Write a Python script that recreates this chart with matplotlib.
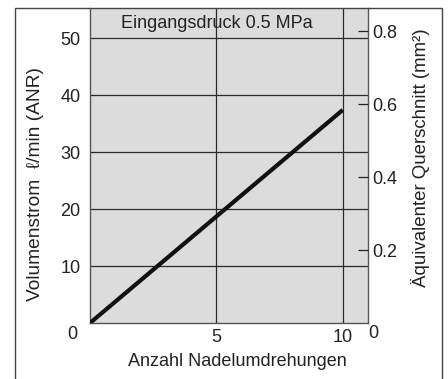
import numpy as np
import matplotlib
matplotlib.use("Agg")
import matplotlib.pyplot as plt
from matplotlib.patches import Rectangle

plt.rcParams['font.family'] = ['Liberation Sans', 'DejaVu Sans']
plt.rcParams['font.size'] = 13

# data
turns = [0, 10]
flow = [0, 37.4]
left_ticks = [10, 20, 30, 40, 50]
bottom_ticks = [5, 10]
right_ticks = [0.2, 0.4, 0.6, 0.8]
area_per_flow = 1 / 64.0   # mm2 per l/min on the right scale
note = "Eingangsdruck 0.5 MPa"

fig = plt.figure(figsize=(4.48, 3.79), dpi=100)
ax = fig.add_axes([90 / 448, 1 - 323 / 379, 278 / 448, 315 / 379])
ax.set_facecolor('#dcdcdc')

ax.set_xlim(0, 11)
ax.set_ylim(0, 55.3)
ax.set_xticks(bottom_ticks)
ax.set_yticks(left_ticks)
ax.grid(True, color='#2a2a2a', lw=0.9)
ax.set_axisbelow(True)
ax.tick_params(length=0, pad=4, colors='#222222')
ax.tick_params(axis='y', pad=7)
for s in ['left', 'bottom', 'right']:
    ax.spines[s].set_color('#555555')
    ax.spines[s].set_linewidth(1.0)
ax.spines['top'].set_visible(False)

ax.plot(turns, flow, color='#111111', lw=3.0, solid_capstyle='butt', zorder=3)

ax.text(5, 52.6, note, ha='center', va='center', color='#222222')

ax.set_xlabel("Anzahl Nadelumdrehungen", color='#222222')
ax.xaxis.set_label_coords(0.53, -0.095)
ax.set_ylabel("Volumenstrom  ℓ/min (ANR)", color='#222222', fontsize=13.8)
ax.yaxis.set_label_coords(-0.165, 0.44)

# shared corner zeros
ax.annotate("0", xy=(0, 0), xycoords='axes fraction', xytext=(-12.6, -8.6),
            textcoords='offset points', ha='center', va='center', color='#222222')

ax2 = ax.twinx()
ax2.set_ylim(0, 55.3 * area_per_flow)
ax2.set_yticks(right_ticks)
ax2.set_yticklabels([f"{v:.1f}" for v in right_ticks])
ax2.tick_params(axis='y', direction='in', length=7.2, width=0.9, pad=3,
                colors='#222222')
for s in ax2.spines.values():
    s.set_visible(False)
ax2.set_ylabel("Äquivalenter Querschnitt (mm²)", color='#222222', fontsize=13.4)
ax2.yaxis.set_label_coords(1.155, 0.524)
ax2.annotate("0", xy=(1, 0), xycoords='axes fraction', xytext=(3.8, -7.5),
             textcoords='offset points', ha='center', va='center', color='#222222')

# outer frame (open at the bottom edge of the picture)
fig.add_artist(Rectangle((15 / 448, -0.05), (442 - 15) / 448, 1.05 - 8 / 379,
                         transform=fig.transFigure, fill=False,
                         edgecolor='#444444', lw=1.0))

fig.savefig("out.png", dpi=100)
